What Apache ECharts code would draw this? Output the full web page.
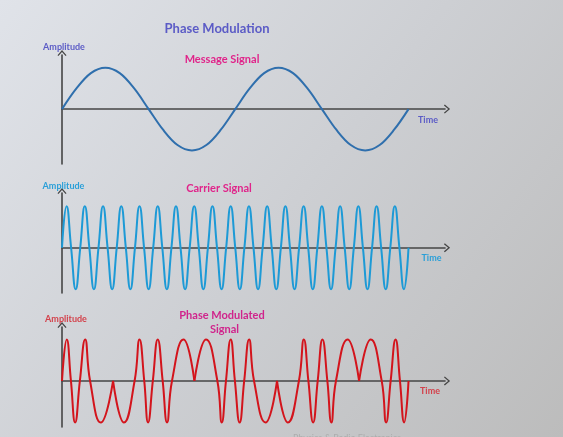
<!DOCTYPE html>
<html>
<head>
<meta charset="utf-8">
<script src="https://cdn.jsdelivr.net/npm/echarts@6/dist/echarts.min.js"></script>
<style>
html,body{margin:0;padding:0;}
#chart{width:563px;height:437px;}
</style>
</head>
<body>
<div id="chart"></div>
<script>
// ---- data (time in carrier periods, amplitude normalised) ----
var messageStep = 0.79167;
var messageValues = [
  0,0.5,0.87,1,0.87,0.5, 0,-0.5,-0.87,-1,-0.87,-0.5,
  0,0.5,0.87,1,0.87,0.5, 0,-0.5,-0.87,-1,-0.87,-0.5, 0
];

var carrierStep = 0.25;
var carrierValues = [
  0,1,0,-1, 0,1,0,-1, 0,1,0,-1, 0,1,0,-1, 0,1,0,-1,
  0,1,0,-1, 0,1,0,-1, 0,1,0,-1, 0,1,0,-1, 0,1,0,-1,
  0,1,0,-1, 0,1,0,-1, 0,1,0,-1, 0,1,0,-1, 0,1,0,-1,
  0,1,0,-1, 0,1,0,-1, 0,1,0,-1, 0,1,0,-1, 0
];

var pmTimes = [0,0.26,0.49,0.72,0.98,1.27,1.54,2.13,2.80,3.40,3.98,4.25,4.51,4.72,4.98,5.25,5.52,5.76,6.03,6.66,7.26,7.90,8.52,8.76,8.99,9.25,9.48,9.74,9.99,10.26,10.53,11.16,11.79,12.39,12.99,13.26,13.51,13.77,14.02,14.28,14.55,14.77,15.02,15.66,16.29,16.93,17.53,17.77,18.02,18.29,18.53,18.76,19.00];
var pmValues = [0,1,0,-1,0,1,0,-1,0,-1,0,1,0,-1,0,1,0,-1,0,1,0,1,0,-1,0,1,0,-1,0,1,0,-1,0,-1,0,1,0,-1,0,1,0,-1,0,1,0,1,0,-1,0,1,0,-1,0];
var pmCusps = [2.80, 7.26, 11.79, 16.29];

var timeMax = 21;

// ---- build series data ----
function stepped(values, step){
  return values.map(function(v,i){ return [i*step, v]; });
}
var pmSegments = [];
var seg = [];
for (var i=0;i<pmTimes.length;i++){
  seg.push([pmTimes[i], pmValues[i]]);
  if (pmCusps.indexOf(pmTimes[i]) >= 0){
    pmSegments.push(seg);
    seg = [[pmTimes[i], pmValues[i]]];
  }
}
pmSegments.push(seg);

var chevron = 'path://M0,0 L6,7 L4.8,8.2 L0,2.6 L-4.8,8.2 L-6,7 Z';
var axisColor = '#454545';

function xAx(gi){
  return {
    type:'value', gridIndex:gi, min:0, max:timeMax,
    axisLine:{show:true, onZero:true, symbol:['none', chevron], symbolSize:[9,7], symbolOffset:[0,2],
      lineStyle:{color:axisColor, width:1.6}},
    axisTick:{show:false}, axisLabel:{show:false}, splitLine:{show:false}
  };
}
function yAx(gi, mn, mx){
  return {
    type:'value', gridIndex:gi, min:mn, max:mx,
    axisLine:{show:true, symbol:['none', chevron], symbolSize:[9,7], symbolOffset:[0,2],
      lineStyle:{color:axisColor, width:1.6}},
    axisTick:{show:false}, axisLabel:{show:false}, splitLine:{show:false}
  };
}

var series = [
  {type:'line', xAxisIndex:0, yAxisIndex:0, data:stepped(messageValues, messageStep), smooth:0.35,
   showSymbol:false, lineStyle:{color:'#2f6fad', width:2}, z:3},
  {type:'line', xAxisIndex:1, yAxisIndex:1, data:stepped(carrierValues, carrierStep), smooth:0.5,
   showSymbol:false, lineStyle:{color:'#1d9ad6', width:2}, z:3}
];
pmSegments.forEach(function(s){
  series.push({type:'line', xAxisIndex:2, yAxisIndex:2, data:s, smooth:0.5,
    showSymbol:false, lineStyle:{color:'#d3141c', width:2}, z:3});
});

var FONT = 'Lato, "Open Sans", sans-serif';
function t(x, y, s, color, size, weight){
  return {type:'text', x:x, y:y, style:{text:s, fill:color, font:(weight||'bold')+' '+size+'px '+FONT,
    textAlign:'center', textVerticalAlign:'middle'}, z:10};
}

var chart = echarts.init(document.getElementById('chart'), null, {renderer:'canvas'});
chart.setOption({
  backgroundColor:{type:'linear', x:0, y:0, x2:1, y2:1, colorStops:[
    {offset:0, color:'#e0e3e9'}, {offset:0.5, color:'#cdcfd3'}, {offset:1, color:'#bcbcbc'}]},
  animation:false,
  grid:[
    {left:62, width:383, top:55, height:109},
    {left:62, width:383, top:193, height:100},
    {left:62, width:383, top:327, height:100}
  ],
  xAxis:[xAx(0), xAx(1), xAx(2)],
  yAxis:[yAx(0,-1.33,1.31), yAx(1,-1.09,1.32), yAx(2,-1.11,1.30)],
  series:series,
  graphic:{elements:[
    t(217, 29, 'Phase Modulation', '#5b5bc6', 13),
    t(222, 59, 'Message Signal', '#e0248a', 11),
    t(64, 47, 'Amplitude', '#5b5bc6', 9),
    t(428, 120, 'Time', '#5b5bc6', 9),
    t(63.5, 186, 'Amplitude', '#2a9fd8', 9),
    t(219, 188, 'Carrier Signal', '#e0248a', 11),
    t(431.5, 258, 'Time', '#2a9fd8', 9),
    t(66, 319.5, 'Amplitude', '#d3414b', 9),
    t(222, 315, 'Phase Modulated', '#d0248c', 11),
    t(224.5, 329.5, 'Signal', '#d0248c', 11),
    t(430, 391, 'Time', '#d3414b', 9),
    t(347, 438, 'Physics & Radio Electronics', '#adadad', 9, 'normal')
  ]}
});
</script>
</body>
</html>
